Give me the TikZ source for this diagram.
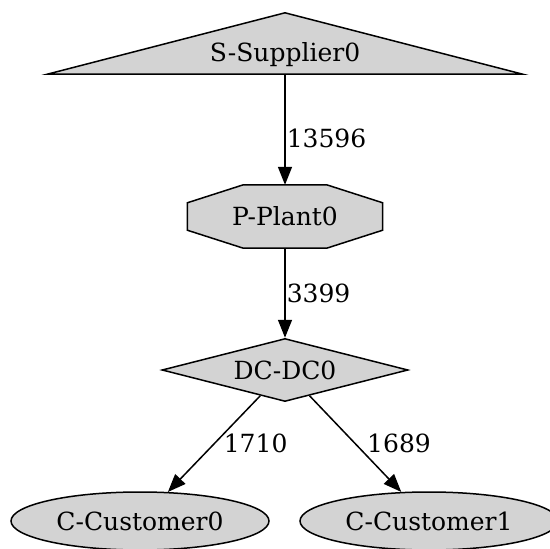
\documentclass[tikz,border=0pt]{standalone}
\usepackage{fontspec}
\setmainfont{DejaVu Serif}
\usetikzlibrary{arrows.meta,shapes.geometric,calc}
\definecolor{nodefill}{RGB}{211,211,211}
\begin{document}
\begin{tikzpicture}[x=1pt,y=-1pt,
  every node/.style={font=\fontsize{25}{30}\selectfont, inner sep=0pt,
    text height=18.2pt, text depth=0pt},
  shapeline/.style={draw=black, line width=1.5pt, fill=nodefill, line join=miter},
  ghost/.style={rectangle, draw=none},
  dcbox/.style={diamond, shapeline, shape aspect=3.9, minimum width=246pt, minimum height=63pt},
  custbox/.style={ellipse, shapeline, minimum width=258pt, minimum height=58pt},
  flow/.style={line width=1.5pt, -{Triangle[length=18pt,width=14pt]}},
  qty/.style={anchor=west, inner xsep=1pt}
]
  % canvas
  \fill[white] (0,0) rectangle (550,549);
  \useasboundingbox (0,0) rectangle (550,549);

  % supplier: flat triangle built on an invisible box
  \node[ghost, minimum width=475pt, minimum height=61pt, text height=35pt] (sup) at (285,43.5) {};
  \filldraw[shapeline] (sup.south west) -- (sup.north) -- (sup.south east) -- cycle;
  \node[ghost, text height=35pt] at (sup.center) {S-Supplier0};

  % plant: octagon built on an invisible box
  \node[ghost, minimum width=195pt, minimum height=63pt] (plant) at (285,216.5) {};
  \filldraw[shapeline]
    ($(plant.north west)+(56,0)$) -- ($(plant.north east)+(-56,0)$) --
    ($(plant.north east)+(0,18)$) -- ($(plant.south east)+(0,-18)$) --
    ($(plant.south east)+(-56,0)$) -- ($(plant.south west)+(56,0)$) --
    ($(plant.south west)+(0,-18)$) -- ($(plant.north west)+(0,18)$) -- cycle;
  \node at (plant.center) {P-Plant0};

  % distribution centre
  \node[dcbox] (dc) at (285,370) {DC-DC0};

  % customers
  \node[custbox] (c0) at (140,521) {C-Customer0};
  \node[custbox] (c1) at (429,521) {C-Customer1};

  % flows
  \draw[flow] (sup.south) -- node[qty, pos=0.577] {13596} (plant.north);
  \draw[flow] (plant.south) -- node[qty, pos=0.5] {3399} (dc.north);
  \draw[flow] (dc) -- node[qty, pos=0.5, xshift=8pt] {1710} (c0);
  \draw[flow] (dc) -- node[qty, pos=0.5, xshift=10pt] {1689} (c1);
\end{tikzpicture}
\end{document}
